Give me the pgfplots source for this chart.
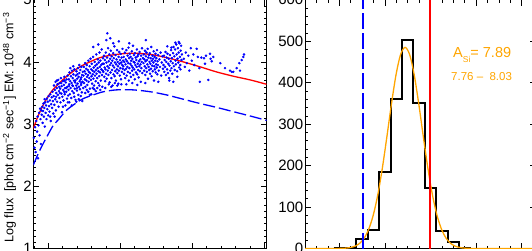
\documentclass[border=0pt]{standalone}
\usepackage{fontspec}
\setmainfont{Liberation Sans}
\usepackage{pgfplots}
\pgfplotsset{compat=1.18}
\definecolor{myorange}{RGB}{255,165,0}
\begin{document}
\begin{tikzpicture}
\pgfplotsset{
  every axis/.append style={
    scale only axis, anchor=south west,
    axis line style={black, line width=0.6pt},
    tick style={black, line width=0.5pt},
    tick align=inside,
    major tick length=6pt, minor tick length=3pt,
    xticklabels={},
    yticklabel style={font=\fontsize{15}{15}\selectfont, inner sep=1.5pt},
    /pgf/number format/assume math mode=true,
  }
}
\begin{axis}[at={(33.3pt,1.5pt)}, width=233.3pt, height=248.8pt,
  xmin=0, xmax=233.3, ymin=1, ymax=5,
  xtick={15,87,159,231},
  minor xtick={0.6,29.4,43.8,58.2,72.6,101.4,115.8,130.2,144.6,173.4,187.8,202.2,216.6},
  ytick={1,2,3,4,5}, minor y tick num=9,
]
\addplot[only marks, mark=*, mark size=1.05pt, blue, mark options={draw=none, fill=blue}] coordinates {
(0.5,2.78)(1.2,2.62)(1.8,2.95)(2.3,2.55)(2.9,3.05)(3.4,2.72)(3.8,2.88)(4.3,3.12)(4.7,2.45)(5.2,2.98)(5.8,3.18)(6.3,2.82)(6.8,3.25)(7.2,3.08)(7.6,2.68)(8.0,3.22)
(8.4,3.15)(8.9,3.28)(9.3,3.02)(9.7,3.21)(10.2,3.33)(10.6,3.12)(11.0,3.26)(11.5,2.96)(11.9,3.35)(12.3,3.18)(12.8,3.30)(13.2,3.08)(13.6,3.41)(14.0,3.24)(14.5,3.36)(14.9,3.14)(15.3,3.45)(15.8,3.29)(16.2,3.20)(16.6,3.38)(17.1,3.48)(17.5,3.05)(17.9,3.32)(18.4,3.43)(18.8,3.26)(19.2,3.52)(19.6,3.37)(20.0,3.17)(11.3,3.40)(16.9,3.12)
(20.3,3.45)(20.7,3.62)(21.1,3.31)(21.5,3.55)(21.9,3.40)(22.3,3.68)(22.6,3.22)(23.0,3.50)(23.4,3.58)(23.8,3.36)(24.2,3.64)(24.5,3.47)(24.9,3.71)(25.3,3.28)(25.7,3.53)(26.1,3.42)(26.4,3.66)(26.8,3.57)(27.2,3.35)(27.6,3.74)(28.0,3.49)(28.3,3.61)(28.7,3.19)(29.1,3.44)(29.5,3.69)(29.9,3.55)(30.2,3.38)(30.6,3.63)(31.0,3.76)(31.4,3.48)(31.8,3.58)(32.1,3.30)(32.5,3.67)(32.9,3.52)(33.3,3.72)(33.7,3.41)(34.0,3.60)(34.4,3.78)(34.8,3.46)(21.3,3.12)(23.6,3.70)(25.9,3.60)(27.9,3.66)(29.7,3.28)(31.2,3.70)(33.0,3.58)(34.6,3.35)(22.8,3.44)(26.6,3.50)(30.9,3.52)
(35.2,3.55)(35.5,3.72)(35.9,3.64)(36.2,3.83)(36.6,3.48)(36.9,3.69)(37.3,3.58)(37.6,3.77)(38.0,3.42)(38.3,3.66)(38.7,3.86)(39.0,3.53)(39.4,3.74)(39.7,3.61)(40.1,3.80)(40.4,3.50)(40.8,3.70)(41.1,3.88)(41.5,3.57)(41.8,3.67)(42.2,3.39)(42.5,3.78)(42.9,3.62)(43.2,3.85)(43.6,3.54)(43.9,3.73)(44.3,3.65)(44.6,3.90)(45.0,3.47)(45.3,3.76)(45.7,3.60)(46.0,3.82)(46.4,3.69)(46.7,3.56)(47.1,3.87)(47.4,3.72)(47.8,3.63)(48.1,3.92)(48.5,3.51)(48.8,3.79)(49.2,3.68)(49.5,3.84)(49.9,3.58)(36.0,3.35)(38.5,3.30)(41.0,3.44)(43.0,3.36)(45.5,3.40)(47.5,3.45)(49.0,3.37)(37.0,3.90)(40.0,3.93)(42.0,3.70)(44.0,3.80)(46.0,3.95)(48.0,3.75)(39.2,3.62)(43.8,3.58)(47.9,3.66)(35.7,3.61)
(50.2,3.78)(50.5,3.92)(50.8,3.66)(51.2,3.85)(51.5,3.72)(51.8,3.98)(52.1,3.60)(52.4,3.81)(52.8,3.89)(53.1,3.70)(53.4,3.95)(53.7,3.76)(54.0,3.63)(54.4,3.87)(54.7,3.79)(55.0,4.02)(55.3,3.68)(55.6,3.84)(56.0,3.74)(56.3,3.93)(56.6,3.57)(56.9,3.82)(57.2,4.05)(57.6,3.71)(57.9,3.88)(58.2,3.77)(58.5,3.97)(58.8,3.65)(59.2,3.86)(59.5,3.80)(59.8,4.08)(60.1,3.73)(60.4,3.91)(60.8,3.62)(61.1,3.84)(61.4,4.00)(61.7,3.78)(62.0,3.94)(62.4,3.69)(62.7,3.87)(63.0,4.12)(63.3,3.81)(63.6,3.96)(63.9,3.74)(64.3,3.90)(64.6,4.04)(64.9,3.66)(65.2,3.85)(65.5,3.99)(65.9,3.77)(66.2,4.15)(66.5,3.92)(66.8,3.83)(67.1,4.02)(67.5,3.70)(67.8,3.95)(68.1,3.88)(68.4,4.20)(68.7,3.79)(69.1,3.97)(69.4,3.86)(69.7,4.06)(52.0,3.50)(55.0,3.52)(58.0,3.48)(61.0,3.56)(64.0,3.58)(67.0,3.55)(60.0,4.24)(65.0,4.28)(53.5,3.55)(56.5,3.47)(59.5,3.58)(62.5,3.53)(66.0,3.62)(69.0,3.60)
(70.1,3.84)(70.4,3.97)(70.7,4.10)(71.0,3.76)(71.3,3.91)(71.6,4.03)(71.9,3.69)(72.2,3.88)(72.5,4.15)(72.8,3.81)(73.1,3.99)(73.4,3.73)(73.7,4.07)(74.0,4.46)(74.2,3.93)(74.5,3.86)(74.8,4.22)(75.1,3.79)(75.4,4.01)(75.7,3.90)(76.0,4.12)(76.3,3.67)(76.6,3.95)(76.9,4.05)(77.2,3.83)(77.5,4.18)(77.8,3.98)(78.1,3.74)(78.4,4.09)(78.7,3.87)(79.0,4.02)(79.3,3.62)(79.6,3.94)(79.9,4.14)(80.2,3.80)(80.5,4.06)(80.8,3.91)(81.1,4.25)(81.4,3.77)(81.7,3.99)(82.0,3.85)(82.3,4.11)(82.6,3.70)(82.9,3.96)(83.2,4.04)(83.5,3.88)(83.8,4.19)(84.1,3.82)(84.4,4.00)(84.7,3.93)(85.0,3.65)(85.3,4.08)(85.6,3.86)(85.9,4.16)(86.2,3.97)(86.5,3.78)(86.8,4.03)(87.1,3.90)(87.4,4.13)(87.7,3.72)(88.0,3.99)(88.3,4.07)(88.6,3.84)(88.9,3.95)(89.2,4.21)(89.5,3.89)(89.8,4.02)(73.0,4.35)(77.0,4.38)(80.0,4.30)(85.5,4.33)(72.0,3.58)(78.0,3.60)(84.0,3.62)(88.0,3.64)(75.5,3.64)(81.5,3.66)
(90.1,3.93)(90.4,4.08)(90.7,3.81)(91.0,4.00)(91.3,3.87)(91.6,4.15)(91.9,3.74)(92.2,3.96)(92.5,4.04)(92.8,3.89)(93.1,4.19)(93.4,3.78)(93.7,4.01)(94.0,3.92)(94.3,4.10)(94.6,3.84)(94.9,3.98)(95.2,4.23)(95.5,3.70)(95.8,4.06)(96.1,3.90)(96.4,4.13)(96.7,3.82)(97.0,3.97)(97.3,4.08)(97.6,3.76)(97.9,4.02)(98.2,3.94)(98.5,4.17)(98.8,3.86)(99.1,4.05)(99.4,3.91)(99.7,4.26)(100.0,3.79)(100.3,4.00)(100.6,4.11)(100.9,3.88)(101.2,3.99)(101.5,3.72)(101.8,4.14)(102.1,3.95)(102.4,4.07)(102.7,3.83)(103.0,4.03)(103.3,3.92)(103.6,4.20)(103.9,3.80)(104.2,4.09)(104.5,3.97)(104.8,3.87)(105.1,4.12)(105.4,3.75)(105.7,4.01)(106.0,3.93)(106.3,4.16)(106.6,3.85)(106.9,4.04)(107.2,3.96)(107.5,3.68)(107.8,4.10)(108.1,3.90)(108.4,4.00)(108.7,4.22)(109.0,3.82)(109.6,4.06)(112.5,4.35)(96.0,4.30)(93.0,3.64)(99.0,3.66)(104.0,3.63)
(110.2,3.98)(110.5,4.12)(110.8,3.86)(111.1,4.04)(111.4,3.93)(111.7,4.18)(112.0,3.79)(112.3,4.01)(112.6,4.09)(112.9,3.90)(113.2,4.15)(113.5,3.84)(113.8,4.03)(114.1,3.96)(114.4,4.21)(114.7,3.73)(115.0,4.07)(115.3,3.92)(115.6,4.11)(115.9,3.87)(116.2,4.00)(116.5,4.14)(116.8,3.81)(117.1,3.97)(117.4,4.06)(117.7,3.89)(118.0,4.24)(118.3,3.77)(118.6,4.02)(118.9,3.94)(119.2,4.10)(119.5,3.85)(119.8,4.05)(120.1,3.99)(120.4,4.17)(120.7,3.70)(121.0,3.93)(121.3,4.08)(121.6,3.88)(121.9,4.02)(122.2,4.13)(122.5,3.83)(122.8,3.96)(123.1,4.06)(123.4,3.91)(123.7,4.19)(124.0,3.80)(124.3,4.01)(124.6,3.95)(124.9,4.11)(125.5,3.86)(126.1,4.04)(126.7,3.92)(127.3,4.15)(127.9,3.78)(128.5,3.99)(129.1,4.09)(129.7,3.89)(112.0,3.66)(125.0,3.68)
(130.2,3.95)(130.6,4.10)(131.0,3.84)(131.4,4.03)(131.8,3.92)(132.2,4.16)(132.6,3.79)(133.0,4.00)(133.4,4.07)(133.8,3.88)(134.2,4.13)(134.6,3.82)(135.0,3.97)(135.4,4.05)(135.8,3.74)(136.2,3.94)(136.6,4.11)(137.0,3.86)(137.4,4.01)(137.8,4.19)(138.2,3.90)(138.6,4.06)(139.0,3.81)(139.4,3.98)(139.8,4.14)(140.2,4.24)(140.6,3.93)(141.0,4.09)(141.4,3.87)(141.8,4.20)(142.2,4.02)(142.6,3.96)(143.0,4.28)(143.4,4.12)(143.8,3.85)(144.2,4.05)(144.6,4.22)(145.0,3.99)(145.4,4.15)(145.8,3.91)(146.2,4.30)(146.6,4.08)(147.0,3.95)(147.4,4.18)(147.8,4.26)(148.2,4.03)(136.0,3.70)(140.0,3.68)(144.0,3.76)(134.0,4.25)(142.0,4.31)(145.5,4.32)(138.0,4.23)(147.2,3.88)(148.6,4.12)
(150.5,4.05)(151.5,3.92)(152.5,4.15)(153.5,3.98)(155.0,4.10)(156.0,3.86)(157.5,4.22)(158.5,4.02)(160.0,4.12)(161.0,3.95)(163.4,4.21)(164.5,4.08)(166.0,3.90)(168.0,4.07)(170.7,4.06)(171.7,3.97)(172.7,4.10)(175.0,3.71)(176.7,4.13)(177.3,4.05)(178.4,4.01)(180.0,4.08)(187.0,3.98)(191.7,3.90)(196.7,3.86)(198.4,3.84)(200.0,3.84)(203.4,3.90)(206.0,3.98)(206.7,3.86)(208.4,4.03)(210.0,4.08)(210.7,4.12)(166.5,3.68)
};
\addplot[red, line width=1.3pt, smooth] coordinates {
(0,2.93)(5,3.14)(10,3.31)(15,3.45)(20,3.56)(30,3.72)(40,3.85)(50,3.95)(67,4.07)(83,4.12)(100,4.14)(117,4.12)(133,4.07)(150,4.00)(167,3.92)(183,3.84)(200,3.77)(217,3.71)(233.3,3.64)
};
\addplot[blue, line width=1.3pt, dash pattern=on 12pt off 4pt, smooth] coordinates {
(0,2.34)(5,2.53)(10,2.69)(15,2.84)(20,2.98)(25,3.07)(33,3.22)(42,3.33)(50,3.41)(60,3.47)(70,3.52)(83,3.55)(100,3.55)(117,3.52)(133,3.47)(150,3.40)(167,3.33)(183,3.27)(200,3.20)(217,3.13)(233.3,3.06)
};
\end{axis}
\node[rotate=90, font=\fontsize{12.5}{12.5}\selectfont, inner sep=0pt] at (9.5pt,122.5pt) {Log flux\ \ [phot cm\textsuperscript{−2} sec\textsuperscript{−1}] EM: 10\textsuperscript{48} cm\textsuperscript{−3}};
\begin{axis}[at={(305pt,1.5pt)}, width=231pt, height=248.8pt,
  xmin=7.45, xmax=8.463, ymin=0, ymax=600,
  xtick={7.6,7.8,8.0,8.2,8.4},
  minor xtick={7.5,7.55,7.65,7.7,7.75,7.85,7.9,7.95,8.05,8.1,8.15,8.25,8.3,8.35,8.45},
  ytick={0,100,200,300,400,500,600}, minor y tick num=4,
]
\addplot[const plot, black, line width=2pt] coordinates {
(7.575,1)(7.625,2)(7.675,22)(7.725,44)(7.775,185)(7.825,360)(7.875,502)(7.925,352)(7.975,145)(8.025,43)(8.075,15)(8.125,2)(8.175,0)
};
\addplot[myorange, line width=1.3pt, smooth] coordinates {
(7.45,0)(7.569,0)(7.589,0.1)(7.609,0.36)(7.629,0.96)(7.649,2.4)(7.669,5.6)(7.689,12.2)(7.709,24.6)(7.729,45.9)(7.749,79.8)(7.769,128.9)(7.789,193.2)(7.809,269.1)(7.829,348.2)(7.849,418.6)(7.869,467.5)(7.889,485)(7.909,467.5)(7.929,418.6)(7.949,348.2)(7.969,269.1)(7.989,193.2)(8.009,128.9)(8.029,79.8)(8.049,45.9)(8.069,24.6)(8.089,12.2)(8.109,5.6)(8.129,2.4)(8.149,0.96)(8.169,0.36)(8.189,0.1)(8.209,0)(8.463,0)
};
\addplot[blue, line width=2pt, dash pattern=on 16pt off 4pt] coordinates {(7.704,0)(7.704,600)};
\addplot[red, line width=1.5pt] coordinates {(7.998,0)(7.998,600)};
\end{axis}
\node[anchor=west, inner sep=0pt, text=myorange, font=\fontsize{14.5}{14.5}\selectfont] at (453pt,195pt) {A\raisebox{-0.3em}{\fontsize{8.5}{8.5}\selectfont Si}= 7.89};
\node[anchor=west, inner sep=0pt, text=myorange, font=\fontsize{11.5}{11.5}\selectfont] at (451pt,173pt) {7.76 –\ \ 8.03};
\pgfresetboundingbox
\useasboundingbox (0,0) rectangle (532pt,250pt);
\end{tikzpicture}
\end{document}
